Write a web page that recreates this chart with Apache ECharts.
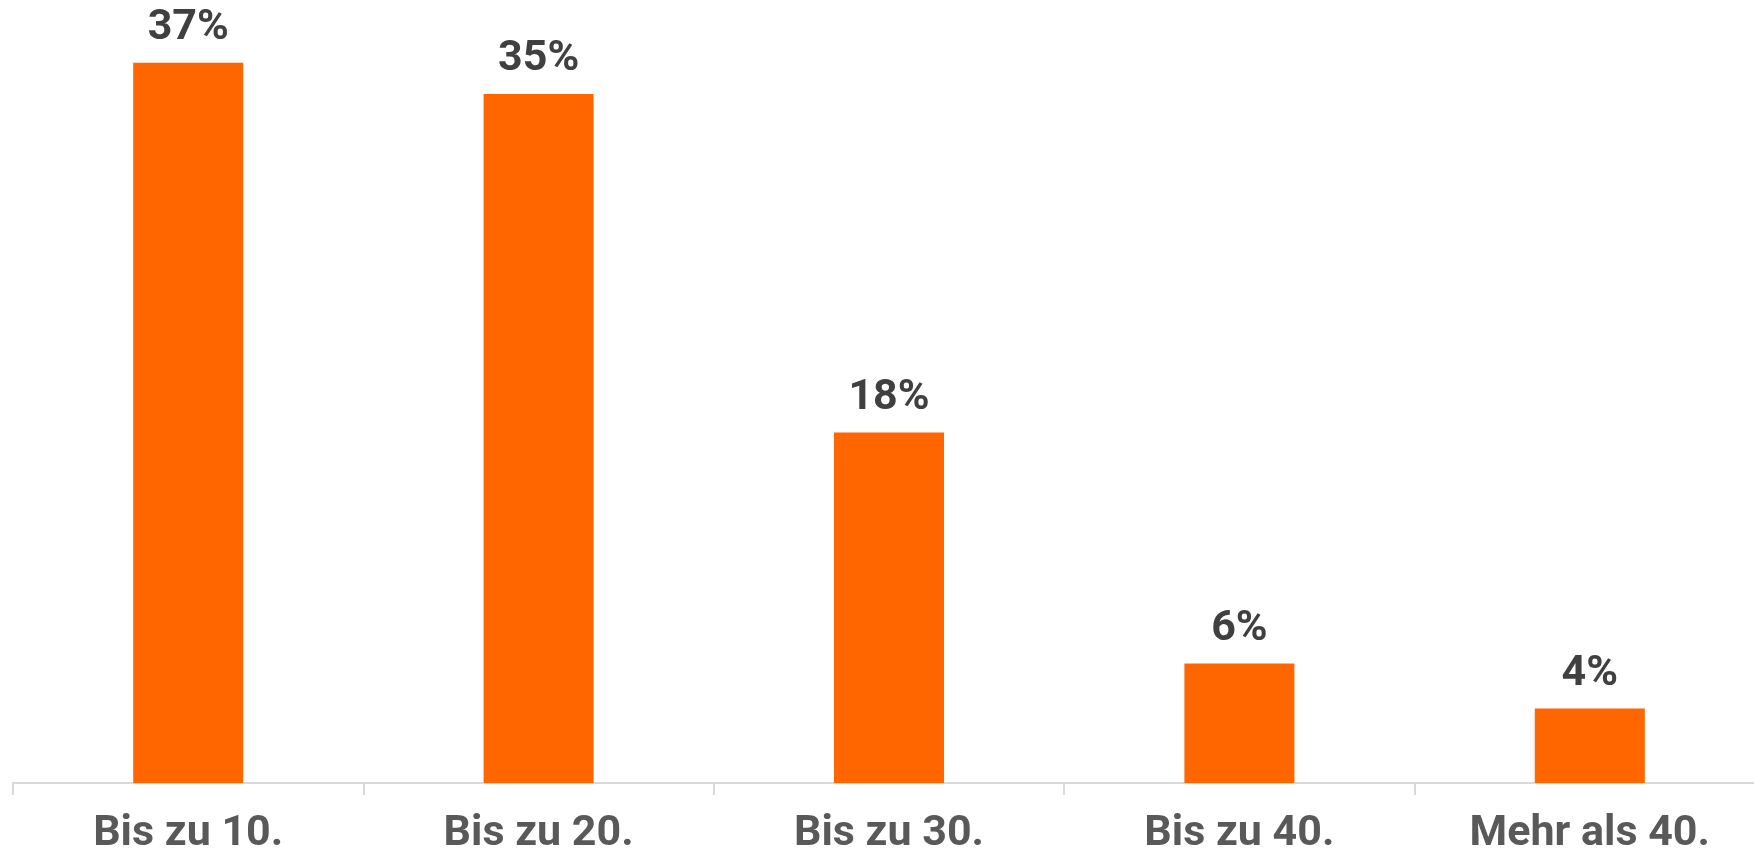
<!DOCTYPE html>
<html><head><meta charset="utf-8">
<script src="https://cdn.jsdelivr.net/npm/echarts@6/dist/echarts.min.js"></script>
<style>html,body{margin:0;padding:0;background:#fff}#c{width:1754px;height:856px}</style>
</head><body><div id="c"></div>
<script>
const categories = ['Bis zu 10.', 'Bis zu 20.', 'Bis zu 30.', 'Bis zu 40.', 'Mehr als 40.'];
const values = [36.8, 35.2, 17.9, 6.1, 3.8];
const chart = echarts.init(document.getElementById('c'));
chart.setOption({
  animation: false,
  grid: { left: 13, top: 0, width: 1752, height: 783, containLabel: false, outerBoundsMode: 'none' },
  xAxis: {
    type: 'category', data: categories,
    axisLine: { lineStyle: { color: '#d9d9d9', width: 2 } },
    axisTick: { show: true, length: 12, lineStyle: { color: '#d9d9d9', width: 2 } },
    axisLabel: { margin: 30, fontFamily: 'Roboto', fontWeight: 'bold', fontSize: 43, color: '#595959' }
  },
  yAxis: { type: 'value', min: 0, max: 40, show: false, splitLine: { show: false } },
  series: [{
    type: 'bar', data: values, barWidth: '31.4%',
    itemStyle: { color: '#ff6600' },
    label: {
      show: true, position: 'top', distance: 13,
      fontFamily: 'Roboto', fontWeight: 'bold', fontSize: 43, color: '#404040',
      formatter: p => Math.round(p.value) + '%'
    }
  }]
});
</script></body></html>
